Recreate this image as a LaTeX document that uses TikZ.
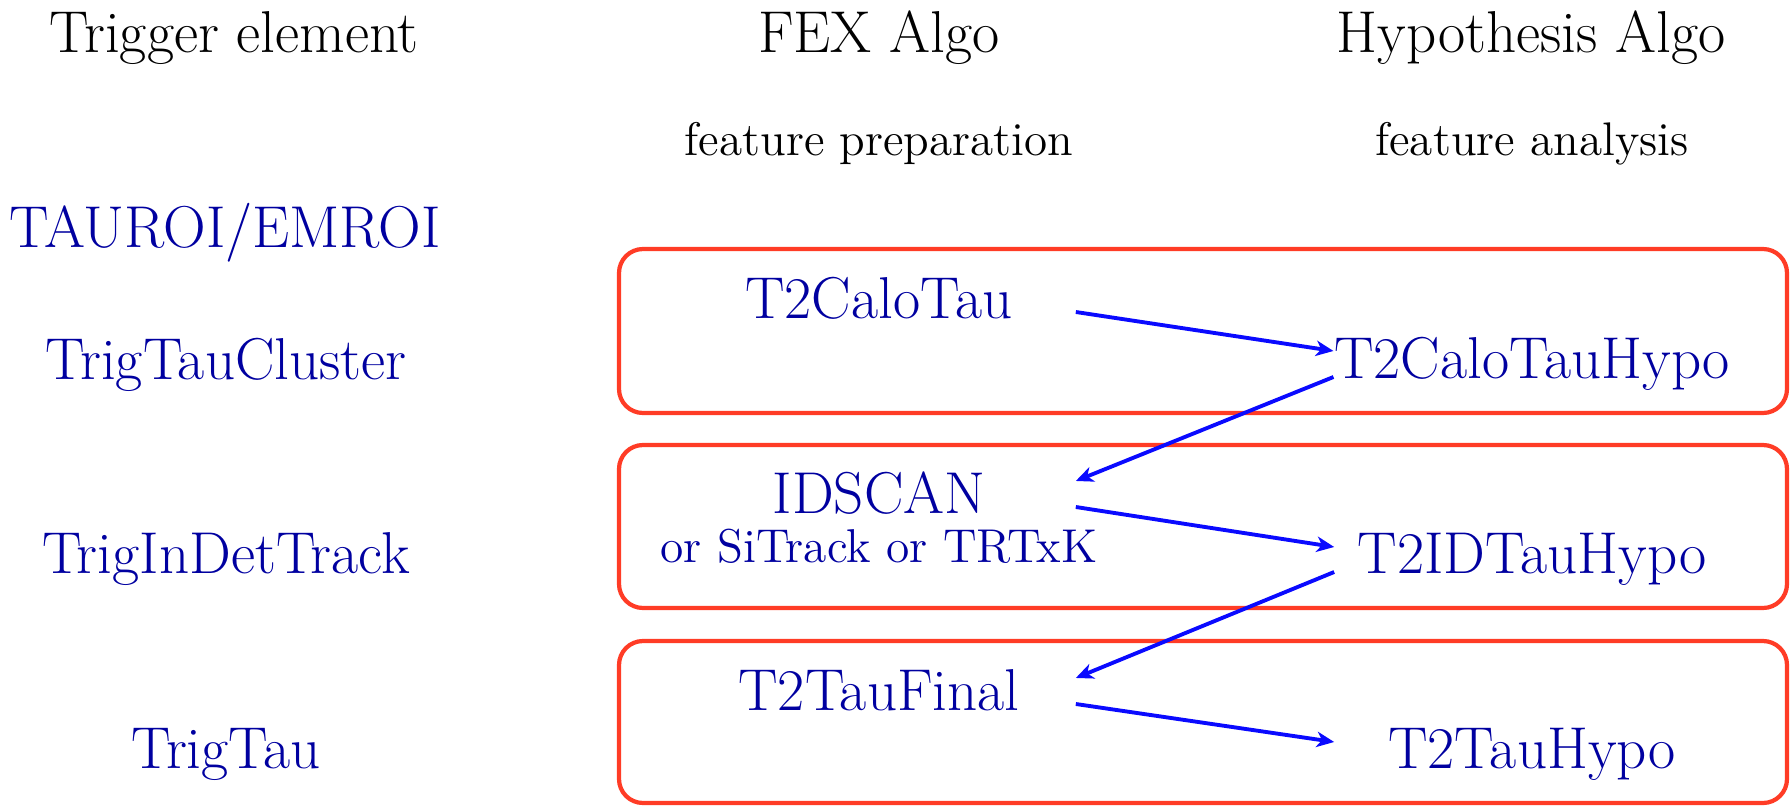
\documentclass[tikz,border=0pt]{standalone}
\usetikzlibrary{arrows.meta}
\begin{document}
\definecolor{txtblue}{RGB}{0,0,160}
\definecolor{arrblue}{RGB}{10,10,255}
\definecolor{boxred}{RGB}{255,60,38}
\tikzset{
  lbl/.style={anchor=base, inner sep=0pt, font=\fontsize{16.8}{20}\selectfont},
  head/.style={lbl, text=black},
  sub/.style={anchor=base, inner sep=0pt, text=black, font=\fontsize{13.4}{16}\selectfont},
  elem/.style={lbl, text=txtblue},
  fex/.style={elem, minimum width=3.92cm},
  hypo/.style={elem, minimum width=3.94cm},
  subelem/.style={anchor=base, inner sep=0pt, text=txtblue, font=\fontsize{13.5}{16}\selectfont},
  stage/.style={draw=boxred, line width=1.2pt, rounded corners=0.24cm},
  flow/.style={draw=arrblue, line width=1.1pt, -{Stealth[length=5pt,width=4.4pt,inset=1.5pt]}},
}
\begin{tikzpicture}[x=0.01cm,y=-0.01cm]
\useasboundingbox (0,0) rectangle (1790,806);
% stage boxes
\draw[stage] (619,249) rectangle (1787,413);
\draw[stage] (619,445) rectangle (1787,608);
\draw[stage] (619,641) rectangle (1787,803);
% headers
\node[head] (h1) at (234,52) {Trigger element};
\node[head] (h2) at (879,52) {FEX Algo};
\node[head] (h3) at (1531,52) {Hypothesis Algo};
\node[sub] (s2) at (879,155) {feature preparation};
\node[sub] (s3) at (1532,155) {feature analysis};
% trigger elements
\node[elem] (roi) at (225,247) {TAUROI/EMROI};
\node[elem] (clu) at (226,379) {TrigTauCluster};
\node[elem] (trk) at (226,573) {TrigInDetTrack};
\node[elem] (tau) at (226,768) {TrigTau};
% FEX algos
\node[fex] (cal) at (879,318) {T2CaloTau};
\node[fex] (ids) at (879,513) {IDSCAN};
\node[subelem] (alt) at (879,562) {or SiTrack or TRTxK};
\node[fex] (fin) at (879,710) {T2TauFinal};
% Hypo algos
\node[hypo] (calh) at (1532,378) {T2CaloTauHypo};
\node[hypo] (idh) at (1532,573) {T2IDTauHypo};
\node[hypo] (tauh) at (1532,768) {T2TauHypo};
% flow
\draw[flow] ([yshift=0.06cm]cal.base east) -- ([yshift=0.27cm]calh.base west);
\draw[flow] ([yshift=0.01cm]calh.base west) -- ([yshift=0.32cm]ids.base east);
\draw[flow] ([yshift=0.06cm]ids.base east) -- ([yshift=0.26cm]idh.base west);
\draw[flow] ([yshift=0.01cm]idh.base west) -- ([yshift=0.32cm]fin.base east);
\draw[flow] ([yshift=0.06cm]fin.base east) -- ([yshift=0.26cm]tauh.base west);
\end{tikzpicture}
\end{document}
